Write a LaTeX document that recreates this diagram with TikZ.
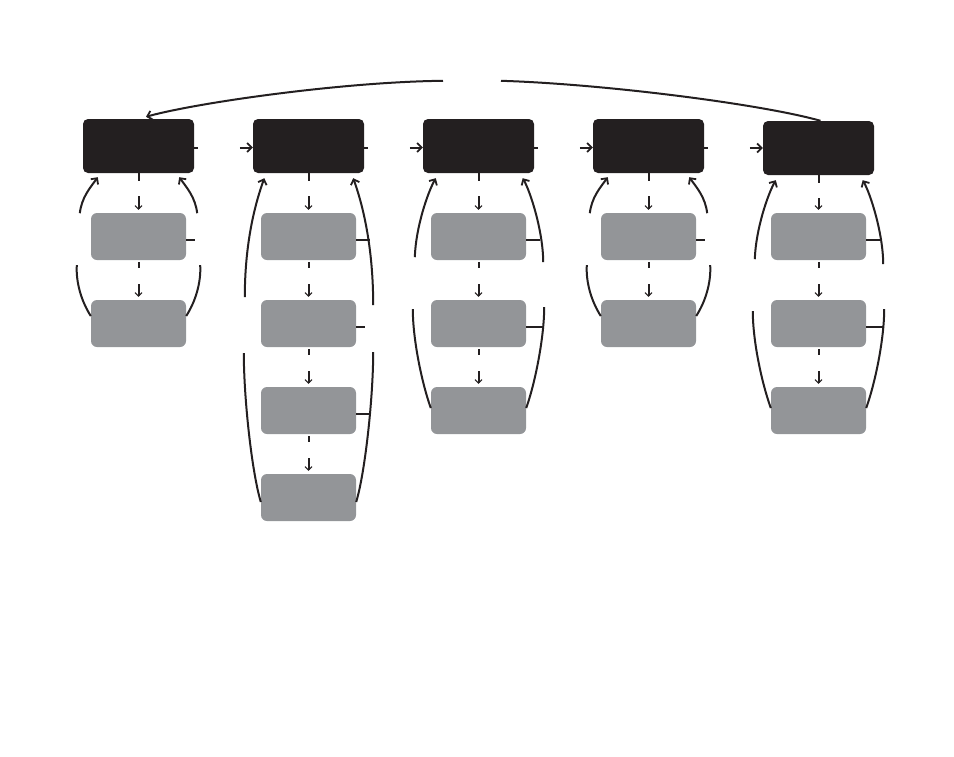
\documentclass[tikz,border=0pt]{standalone}
\usetikzlibrary{arrows.meta,calc}
\definecolor{blk}{HTML}{231F20}
\definecolor{gry}{HTML}{939598}
\begin{document}
\begin{tikzpicture}[x=1pt,y=-1pt,
  bbox/.style={fill=blk, rounded corners=5pt, minimum width=111pt, minimum height=54pt, inner sep=0pt},
  gbox/.style={fill=gry, rounded corners=6pt, minimum width=95pt, minimum height=47pt, inner sep=0pt},
  ln/.style={draw=blk, line width=2pt},
  arr/.style={ln, -{Straight Barb[length=4.5pt,width=9pt,line width=1.8pt]}},
  vd/.style 2 args={draw=blk, line width=2pt, dash pattern=on #1pt off #2pt on 100pt off 1pt, -{Straight Barb[length=3.5pt,width=7pt,line width=1pt]}},
]
\useasboundingbox (0,0) rectangle (954,756);

% black boxes
\node[bbox] (b1) at (138.5,146) {};
\node[bbox] (b2) at (308.5,146) {};
\node[bbox] (b3) at (478.5,146) {};
\node[bbox] (b4) at (648.5,146) {};
\node[bbox] (b5) at (818.5,148) {};

% gray boxes
\node[gbox] (g11) at (138.5,236.5) {};
\node[gbox] (g12) at (138.5,323.5) {};
\node[gbox] (g21) at (308.5,236.5) {};
\node[gbox] (g22) at (308.5,323.5) {};
\node[gbox] (g23) at (308.5,410.5) {};
\node[gbox] (g24) at (308.5,497.5) {};
\node[gbox] (g31) at (478.5,236.5) {};
\node[gbox] (g32) at (478.5,323.5) {};
\node[gbox] (g33) at (478.5,410.5) {};
\node[gbox] (g41) at (648.5,236.5) {};
\node[gbox] (g42) at (648.5,323.5) {};
\node[gbox] (g51) at (818.5,236.5) {};
\node[gbox] (g52) at (818.5,323.5) {};
\node[gbox] (g53) at (818.5,410.5) {};

% vertical dashed arrows
\draw[vd={8}{15}] (b1.south) -- ($(g11.north)+(0,-3)$);
\draw[vd={6}{16}] ($(g11.south)+(0,2)$) -- ($(g12.north)+(0,-3)$);
\draw[vd={8}{15}] (b2.south) -- ($(g21.north)+(0,-3)$);
\draw[vd={6}{16}] ($(g21.south)+(0,2)$) -- ($(g22.north)+(0,-3)$);
\draw[vd={6}{16}] ($(g22.south)+(0,2)$) -- ($(g23.north)+(0,-3)$);
\draw[vd={6}{16}] ($(g23.south)+(0,2)$) -- ($(g24.north)+(0,-3)$);
\draw[vd={8}{15}] (b3.south) -- ($(g31.north)+(0,-3)$);
\draw[vd={6}{16}] ($(g31.south)+(0,2)$) -- ($(g32.north)+(0,-3)$);
\draw[vd={6}{16}] ($(g32.south)+(0,2)$) -- ($(g33.north)+(0,-3)$);
\draw[vd={8}{15}] (b4.south) -- ($(g41.north)+(0,-3)$);
\draw[vd={6}{16}] ($(g41.south)+(0,2)$) -- ($(g42.north)+(0,-3)$);
\draw[vd={8}{15}] (b5.south) -- ($(g51.north)+(0,-3)$);
\draw[vd={6}{16}] ($(g51.south)+(0,2)$) -- ($(g52.north)+(0,-3)$);
\draw[vd={6}{16}] ($(g52.south)+(0,2)$) -- ($(g53.north)+(0,-3)$);

% horizontal links between columns
\draw[ln] ($(b1.east)+(0,1.5)$) -- ++(4,0);
\draw[arr] ($(b2.west)+(-13,1.5)$) -- ($(b2.west)+(0,1.5)$);
\draw[ln] ($(b2.east)+(0,1.5)$) -- ++(4,0);
\draw[arr] ($(b3.west)+(-13,1.5)$) -- ($(b3.west)+(0,1.5)$);
\draw[ln] ($(b3.east)+(0,1.5)$) -- ++(4,0);
\draw[arr] ($(b4.west)+(-13,1.5)$) -- ($(b4.west)+(0,1.5)$);
\draw[ln] ($(b4.east)+(0,1.5)$) -- ++(4,0);
\draw[arr] ($(b5.west)+(-13,0)$) -- (b5.west);

% gray stubs
\draw[ln] ($(g11.east)+(0,3)$) -- ++(9,0);
\draw[ln] ($(g21.east)+(0,3)$) -- ++(14,0);
\draw[ln] ($(g22.east)+(0,3)$) -- ++(9,0);
\draw[ln] ($(g23.east)+(0,3)$) -- ++(14,0);
\draw[ln] ($(g31.east)+(0,3)$) -- ++(14,0);
\draw[ln] ($(g32.east)+(0,3)$) -- ++(17,0);
\draw[ln] ($(g41.east)+(0,3)$) -- ++(9,0);
\draw[ln] ($(g51.east)+(0,3)$) -- ++(14,0);
\draw[ln] ($(g52.east)+(0,3)$) -- ++(17,0);

% column 1 feedback curves
\draw[arr] ($(b1.south west)+(-3,40)$) .. controls +(2,-16) and +(-8,11) .. ($(b1.south west)+(15,4)$);
\draw[ln] ($(g12.west)+(0,-7.5)$) .. controls +(-9,-14) and +(-1,18) .. ($(b1.south west)+(-6,92)$);
\draw[arr] ($(b1.south east)+(3,40)$) .. controls +(-2,-16) and +(8,11) .. ($(b1.south east)+(-15,4)$);
\draw[ln] ($(g12.east)+(0,-7.5)$) .. controls +(9,-14) and +(1,18) .. ($(b1.south east)+(6,92)$);

% column 4 feedback curves
\draw[arr] ($(b4.south west)+(-3,40)$) .. controls +(2,-16) and +(-8,11) .. ($(b4.south west)+(15,4)$);
\draw[ln] ($(g42.west)+(0,-7.5)$) .. controls +(-9,-14) and +(-1,18) .. ($(b4.south west)+(-6,92)$);
\draw[arr] ($(b4.south east)+(3,40)$) .. controls +(-2,-16) and +(8,11) .. ($(b4.south east)+(-15,4)$);
\draw[ln] ($(g42.east)+(0,-7.5)$) .. controls +(9,-14) and +(1,18) .. ($(b4.south east)+(6,92)$);

% column 2 feedback curves
\draw[arr] ($(b2.south west)+(-8,124)$) .. controls +(0,-55) and +(-9,25) .. ($(b2.south west)+(11.5,5)$);
\draw[arr] ($(b2.south east)+(9,132)$) .. controls +(0,-60) and +(9,25) .. ($(b2.south east)+(-11,5)$);
\draw[ln] ($(g24.west)+(0,4.5)$) .. controls +(-9,-30) and +(0,45) .. ($(b2.south west)+(-9,180)$);
\draw[ln] ($(g24.east)+(0,4.5)$) .. controls +(9,-30) and +(0,45) .. ($(b2.south east)+(9,179)$);

% column 3 feedback curves
\draw[arr] ($(b3.south west)+(-8,84)$) .. controls +(1,-30) and +(-8,14) .. ($(b3.south west)+(13,5)$);
\draw[arr] ($(b3.south east)+(9,89)$) .. controls +(0,-30) and +(8,14) .. ($(b3.south east)+(-11.5,5)$);
\draw[ln] ($(g33.west)+(0,-2.5)$) .. controls +(-9,-25) and +(0,30) .. ($(b3.south west)+(-10,136)$);
\draw[ln] ($(g33.east)+(0,-2.5)$) .. controls +(9,-25) and +(0,30) .. ($(b3.south east)+(10,134)$);

% column 5 feedback curves
\draw[arr] ($(b5.south west)+(-8,84)$) .. controls +(1,-30) and +(-8,14) .. ($(b5.south west)+(13,5)$);
\draw[arr] ($(b5.south east)+(9,89)$) .. controls +(0,-30) and +(8,14) .. ($(b5.south east)+(-11.5,5)$);
\draw[ln] ($(g53.west)+(0,-2.5)$) .. controls +(-9,-25) and +(0,30) .. ($(b5.south west)+(-10,136)$);
\draw[ln] ($(g53.east)+(0,-2.5)$) .. controls +(9,-25) and +(0,30) .. ($(b5.south east)+(10,134)$);

% top return arc
\draw[ln] ($(b5.north)+(2,0)$) .. controls +(-60,-17) and +(100,3) .. ($(b5.north)+(-317.5,-40)$);
\draw[arr] ($(b1.north)+(304.5,-38)$) .. controls +(-100,1) and +(50,-14) .. ($(b1.north)+(7.5,-2)$);
\end{tikzpicture}
\end{document}
